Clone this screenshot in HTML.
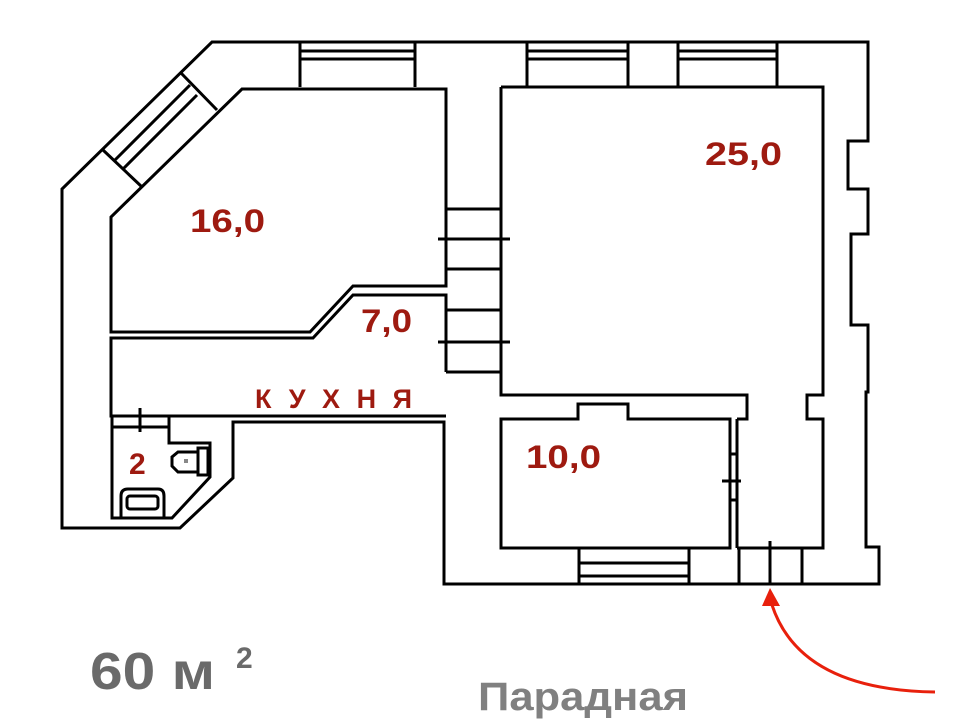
<!DOCTYPE html>
<html><head><meta charset="utf-8"><style>
html,body{margin:0;padding:0;background:#fff;}
svg{display:block;}
.w{fill:none;stroke:#000;stroke-width:3;stroke-linejoin:miter;}
.t{font-family:"Liberation Sans",sans-serif;font-weight:bold;fill:#9e1a10;}
</style></head><body>
<svg width="960" height="720" viewBox="0 0 960 720" xmlns="http://www.w3.org/2000/svg">
<path class="w" d="M212,42 L868,42 L868,141 L848,141 L848,189 L868,189 L868,234 L851,234 L851,325 L868,325 L868,392 L866,392 L866,547 L879,547 L879,584 L444,584 L444,422 L233,422 L233,478 L180,528 L62,528 L62,189 Z"/>
<path class="w" d="M300,42 V87 M415,42 V87 M300,51 H415 M300,59 H415"/>
<path class="w" d="M527,42 V87 M628,42 V87 M527,51 H628 M527,59 H628"/>
<path class="w" d="M678,42 V87 M777,42 V87 M678,51 H777 M678,59 H777"/>
<path class="w" d="M181,73 L217,110 M103,150 L142,187 M190,85 L115,160 M197,95 L122,170"/>
<path class="w" d="M242,89 L446,89 L446,286 L353,286 L310,332 L111,332 L111,217 Z"/>
<path class="w" d="M446,372 L446,295 L353,295 L313,338 L111,338 L111,416 L446,416"/>
<path class="w" d="M446,209 H500 M438,239 H510 M446,269 H500 M446,310 H500 M438,342 H510 M446,372 H500"/>
<path class="w" d="M501,87 L823,87 L823,395 L807,395 L807,419 L823,419 L823,548 L737,548 M501,87 L501,395 L747,395 L747,419 L737,419"/>
<path class="w" d="M501,419 L578,419 L578,404 L628,404 L628,419 L730,419 L730,548 L501,548 Z"/>
<path class="w" d="M737,419 V548 M722,481 H741 M730,454 H737 M730,500 H737"/>
<path class="w" d="M739,548 V584 M802,548 V584 M770,541 V584"/>
<path class="w" d="M579,548 V584 M689,548 V584 M579,563 H689 M579,576 H689"/>
<path class="w" d="M112,416 V518 L172,518 L210,477 L210,443 L169,443 L169,416 M112,427 H169 M140,408 V432"/>
<rect x="198" y="448" width="10" height="27" class="w" stroke-width="2.5"/>
<path class="w" stroke-width="2.5" d="M198,452 H178 L172,457 V466 L178,472 H198"/>
<rect x="184" y="459" width="4" height="4" fill="#888"/>
<path class="w" stroke-width="2.5" d="M121,518 V496 Q121,489 128,489 H158 Q164,489 164,496 V518"/>
<rect x="127" y="496" width="31" height="13" rx="3" class="w" stroke-width="2.5"/>
<text class="t" x="190" y="232" font-size="32" textLength="75" lengthAdjust="spacingAndGlyphs">16,0</text>
<text class="t" x="705" y="165" font-size="32" textLength="77" lengthAdjust="spacingAndGlyphs">25,0</text>
<text class="t" x="361" y="332" font-size="32" textLength="51" lengthAdjust="spacingAndGlyphs">7,0</text>
<text class="t" x="526" y="468" font-size="32" textLength="75" lengthAdjust="spacingAndGlyphs">10,0</text>
<text class="t" x="129" y="474" font-size="30">2</text>
<text class="t" x="255" y="408" font-size="27" textLength="157" lengthAdjust="spacing">КУХНЯ</text>
<text x="90" y="689" font-family="Liberation Sans,sans-serif" font-weight="bold" font-size="52" fill="#6a6a6a" textLength="125" lengthAdjust="spacingAndGlyphs">60 м</text>
<text x="236" y="668" font-family="Liberation Sans,sans-serif" font-weight="bold" font-size="30" fill="#6a6a6a">2</text>
<text x="478" y="710" font-family="Liberation Sans,sans-serif" font-weight="bold" font-size="40" fill="#808080" textLength="210" lengthAdjust="spacingAndGlyphs">Парадная</text>
<path d="M935,692 Q800,690 772,605" fill="none" stroke="#e8200c" stroke-width="3"/>
<path d="M770,588 L762,606 L780,606 Z" fill="#e8200c"/>
</svg>
</body></html>
